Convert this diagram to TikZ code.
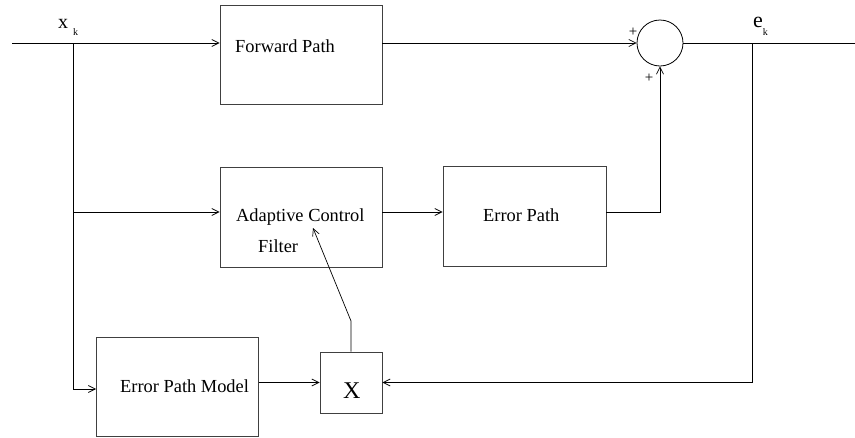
\documentclass[tikz,border=0pt]{standalone}
\usepackage{fontspec}
\setmainfont{Liberation Serif}
\usetikzlibrary{arrows.meta}

\begin{document}
\begin{tikzpicture}[x=1pt,y=-1pt,>={Straight Barb[length=7pt,width=7pt]},
    block/.style={draw=black!75,line width=0.9pt,minimum width=162pt,minimum height=100pt,inner sep=0pt},
    txt/.style={anchor=base west,inner sep=0pt,font=\fontsize{18.4}{22}\selectfont},
    sign/.style={inner sep=0pt,font=\fontsize{15}{17}\selectfont},
    wire/.style={line width=0.7pt}]
    \useasboundingbox (0,0) rectangle (855,437);

    % blocks
    \node[block,minimum height=99pt] (fwd) at (301,54.5)  {};
    \node[block]                     (acf) at (301,217)   {};
    \node[block,minimum width=163pt] (ep)  at (524.5,216.5) {};
    \node[block,minimum height=99pt] (epm) at (177.5,386.5) {};
    \node[block,minimum width=62pt,minimum height=61pt] (mult) at (351,382.5) {};
    \node[draw,circle,line width=0.8pt,minimum size=46pt,inner sep=0pt] (sum) at (660,43) {};

    \node[txt] (fwdtxt) at (235,52)  {Forward Path};
    \node[txt] (acftxt) at (236,221) {Adaptive Control};
    \node[txt] (filtxt) at (258,252) {Filter};
    \node[txt] (eptxt)  at (483,221) {Error Path};
    \node[txt] (epmtxt) at (120,392) {Error Path Model};
    \node[txt,font=\fontsize{24}{28}\selectfont] (multtxt) at (343,398) {X};

    % signals
    \node[anchor=base west,inner sep=0pt] (xklab) at (58,28)
        {\fontsize{20}{24}\selectfont x\hspace{5pt}\raisebox{-7pt}{\fontsize{10}{12}\selectfont k}};
    \node[anchor=base west,inner sep=0pt] (eklab) at (753,27)
        {\fontsize{22}{26}\selectfont e\raisebox{-8pt}{\fontsize{10}{12}\selectfont k}};
    \node[sign] (plusa) at (633,32) {+};
    \node[sign] (plusb) at (649,78) {+};

    \coordinate (in)    at (12,43);
    \coordinate (out)   at (855,43);
    \coordinate (xk)    at (73,43);
    \coordinate (ek)    at (752,43);
    \coordinate (mid)   at (73,212);
    \coordinate (low)   at (73,389);
    \coordinate (bend)  at (351,321);
    \coordinate (adapt) at (313,228);

    \draw[wire,->] (in) -- (in -| fwd.west);
    \draw[wire,->] (fwd.east |- in) -- (sum.west);
    \draw[wire] (sum.east) -- (out);
    \draw[wire] (xk) -- (low);
    \draw[wire,->] (mid) -- (mid -| acf.west);
    \draw[wire,->] (acf.east |- mid) -- (mid -| ep.west);
    \draw[wire,->] (ep.east |- mid) -| (sum.south);
    \draw[wire,->] (low) -- (low -| epm.west);
    \draw[wire,->] (epm.east |- mult.west) -- (mult.west);
    \draw[wire,->] (ek) |- (mult.east);
    \draw[wire,->] (mult.north) -- (bend) -- (adapt);
\end{tikzpicture}
\end{document}
